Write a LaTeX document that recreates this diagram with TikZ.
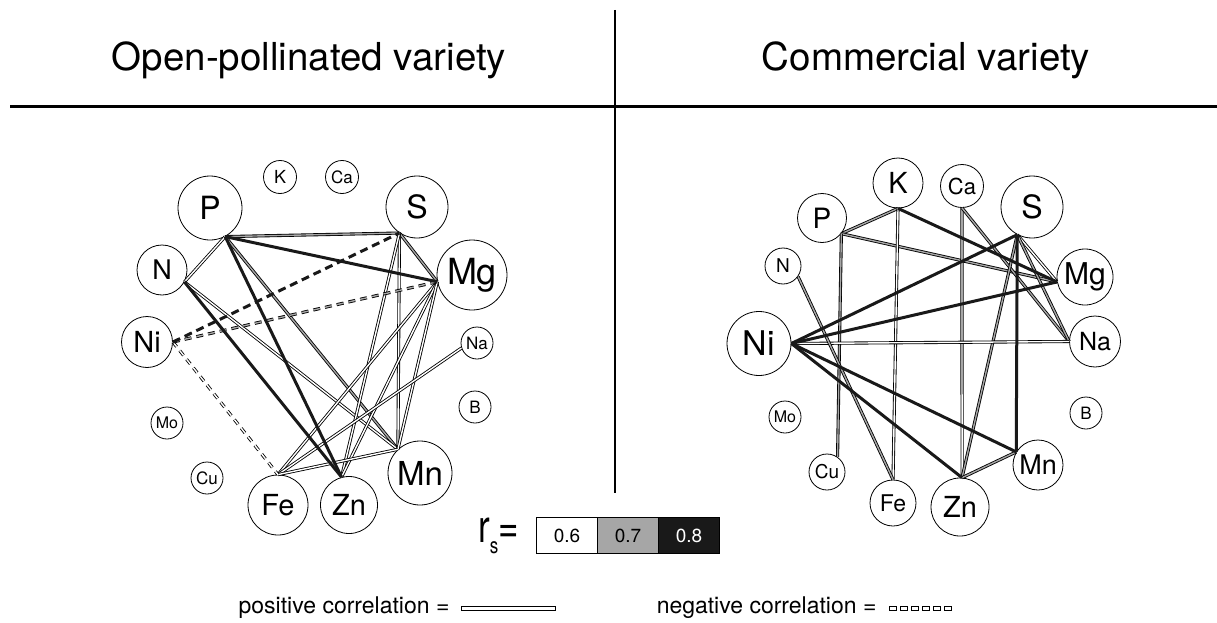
\documentclass[tikz,border=0pt]{standalone}
\usepackage{fontspec}
\setmainfont{TeX Gyre Heros}
\begin{document}
\begin{tikzpicture}[x=1pt,y=-1pt,
  el/.style 2 args={circle,draw,line width=0.8pt,fill=white,minimum size=#1pt,inner sep=0pt,font=\fontsize{#2}{#2}\selectfont},
  pos6/.style={draw=black,line width=0.85pt,double=white,double distance=1.4pt},
  pos7/.style={draw=black,line width=0.85pt,double=black!35,double distance=1.4pt},
  pos8/.style={draw=black!90,line width=3pt},
  neg6/.style={pos6,dash pattern=on 6pt off 5pt},
  neg7/.style={pos7,dash pattern=on 7pt off 5pt},
  neg8/.style={pos8,dash pattern=on 8pt off 5pt},
  cell/.style={draw,line width=0.8pt,minimum width=61pt,minimum height=36pt,inner sep=0pt,font=\fontsize{19}{19}\selectfont},
  hdr/.style={font=\fontsize{38.5}{40}\selectfont},
  leg/.style={font=\fontsize{23}{24}\selectfont},
  legbox/.style={draw=black,line width=0.85pt,fill=white}
]
\useasboundingbox (0,0) rectangle (1217,623);

% headers and dividers
\node[hdr] (h1) at (309,60) {Open-pollinated variety};
\node[hdr] (h2) at (926,60) {Commercial variety};
\coordinate (hl1) at (10,107);
\coordinate (hl2) at (1217,107);
\coordinate (vl1) at (615,10);
\coordinate (vl2) at (615,493);
\draw[line width=3pt] (hl1) -- (hl2);
\draw[line width=2pt] (vl1) -- (vl2);

% ---------------- left network ----------------
\node[el={64}{32}] (lP) at (210,208) {P};
\node[el={33}{18}] (lK) at (280,177) {K};
\node[el={33}{17}] (lCa) at (342,177) {Ca};
\node[el={62}{32}] (lS) at (417,207) {S};
\node[el={50}{27}] (lN) at (162,270) {N};
\node[el={70}{36}] (lMg) at (472,275) {Mg};
\node[el={51}{29}] (lNi) at (147,342) {Ni};
\node[el={32}{17}] (lNa) at (477,343) {Na};
\node[el={32}{16}] (lMo) at (167,423) {Mo};
\node[el={32}{17}] (lB) at (475,407) {B};
\node[el={32}{17}] (lCu) at (207,478) {Cu};
\node[el={60}{29}] (lFe) at (278,505) {Fe};
\node[el={57}{29}] (lZn) at (349,505) {Zn};
\node[el={64}{33}] (lMn) at (420,473) {Mn};

\draw[pos7] (lP.-62) -- (lS.-124);
\draw[pos6] (lP.-62) -- (lN.-28);
\draw[pos7] (lP.-62) -- (lMn.133);
\draw[pos6] (lN.-28) -- (lMn.133);
\draw[pos7] (lS.-124) -- (lMg.-169);
\draw[pos6] (lS.-124) -- (lMn.133);
\draw[pos6] (lS.-124) -- (lZn.105);
\draw[pos6] (lMg.-169) -- (lFe.90);
\draw[pos6] (lMg.-169) -- (lZn.105);
\draw[pos6] (lMg.-169) -- (lMn.133);
\draw[pos6] (lNa.-162) -- (lFe.90);
\draw[pos6] (lFe.90) -- (lMn.133);
\draw[neg6] (lNi.0) -- (lFe.90);
\draw[neg7] (lNi.0) -- (lMg.-169);
\draw[pos8] (lP.-62) -- (lMg.-169);
\draw[pos8] (lP.-62) -- (lZn.105);
\draw[pos8] (lN.-28) -- (lZn.105);
\draw[neg8] (lNi.0) -- (lS.-124);

% ---------------- right network ----------------
\node[el={50}{29}] (rK) at (898,183) {K};
\node[el={43}{22}] (rCa) at (962,186) {Ca};
\node[el={62}{32}] (rS) at (1032,207) {S};
\node[el={49}{28}] (rP) at (822,218) {P};
\node[el={36}{19}] (rN) at (783,266) {N};
\node[el={56}{30}] (rMg) at (1085,277) {Mg};
\node[el={64}{34}] (rNi) at (759,343.5) {Ni};
\node[el={51}{25}] (rNa) at (1095,341.5) {Na};
\node[el={32}{16}] (rMo) at (785,417) {Mo};
\node[el={32}{17}] (rB) at (1086,413) {B};
\node[el={36}{19}] (rCu) at (827,472) {Cu};
\node[el={46}{23}] (rFe) at (893,503) {Fe};
\node[el={58}{29}] (rZn) at (960,507) {Zn};
\node[el={50}{27}] (rMn) at (1038,465) {Mn};

\draw[pos7] (rP.-39) -- (rK.-90);
\draw[pos7] (rP.-39) -- (rMg.-170);
\draw[pos7] (rP.-39) -- (rCu.55);
\draw[pos6] (rK.-90) -- (rFe.90);
\draw[pos6] (rCa.-90) -- (rZn.86);
\draw[pos7] (rCa.-90) -- (rNa.180);
\draw[pos6] (rS.-118) -- (rMg.-170);
\draw[pos7] (rS.-118) -- (rNa.180);
\draw[pos7] (rS.-118) -- (rZn.86);
\draw[pos6] (rNi.0) -- (rNa.180);
\draw[pos7] (rN.-35) -- (rFe.90);
\draw[pos7] (rZn.86) -- (rMn.149);
\draw[pos8] (rK.-90) -- (rMg.-170);
\draw[pos8] (rS.-118) -- (rNi.0);
\draw[pos8] (rS.-118) -- (rMn.149);
\draw[pos8] (rNi.0) -- (rMg.-170);
\draw[pos8] (rNi.0) -- (rMn.149);
\draw[pos8] (rNi.0) -- (rZn.86);

% ---------------- legend ----------------
\node[anchor=east,inner sep=0pt] (rs) at (519,536) {\scalebox{1}[1.3]{\fontsize{35}{35}\selectfont r\raisebox{-0.45ex}{\fontsize{17}{17}\selectfont s}=}};
\node[cell,fill=white] (c6) at (567,535.5) {0.6};
\node[cell,fill=black!35] (c7) at (628,535.5) {0.7};
\node[cell,fill=black!90,text=white] (c8) at (689,535.5) {0.8};

\node[leg,anchor=east] (pt) at (453,608) {positive correlation =};
\draw[legbox] (461,606.5) rectangle (555,610);
\node[leg,anchor=east] (nt) at (880,608) {negative correlation =};
\foreach \i in {0,...,5} {
  \draw[legbox] (889+11*\i,606.5) rectangle (896+11*\i,610);
}
\end{tikzpicture}
\end{document}
